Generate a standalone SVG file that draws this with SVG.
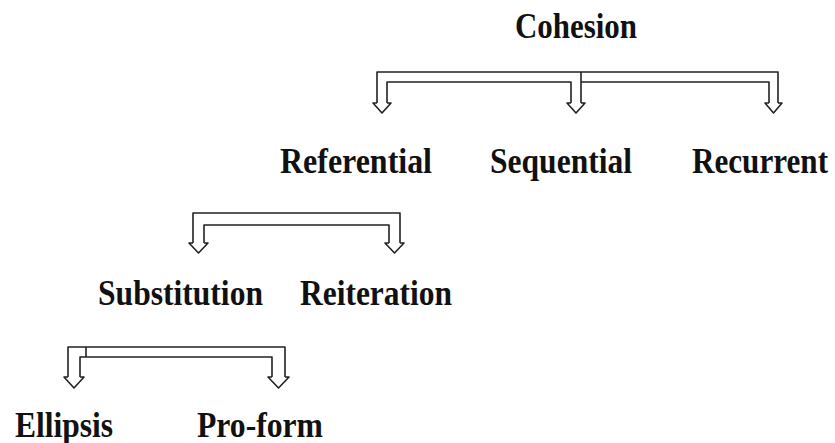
<svg xmlns="http://www.w3.org/2000/svg" width="835" height="443" viewBox="0 0 835 443">
<style>
.t{font-family:"Liberation Serif","Times New Roman",serif;font-weight:bold;font-size:36px;fill:#111}
.c{fill:none;stroke:#222;stroke-width:1.6;stroke-linejoin:round}
</style>
<rect width="835" height="443" fill="#fff"/>
<g id="connectors">
<path class="c" d="M377,103 V72 H778 V103 M387,103 V82 H571 V103 M581,72 V103 M581,82 H769 V103 M377,103 H373 L382,113 L391,103 H387 M571,103 H567 L576,113 L585,103 H581 M769,103 H765 L773.5,113 L782,103 H778"/>
<path class="c" d="M193,243 V213 H400 V243 M204,243 V225 H389 V243 M193,243 H189 L198.5,253 L208,243 H204 M389,243 H385 L394.5,253 L404,243 H400"/>
<path class="c" d="M68,377 V347 H285 V377 M80,377 V357 H272 V377 M86,347 V357 M68,377 H64 L74,388 L84,377 H80 M272,377 H268 L278.5,388 L289,377 H285"/>
</g>
<g id="cohesion"><text class="t" x="515" y="38" textLength="122" lengthAdjust="spacingAndGlyphs">Cohesion</text></g>
<g id="referential"><text class="t" x="280" y="173" textLength="152" lengthAdjust="spacingAndGlyphs">Referential</text></g>
<g id="sequential"><text class="t" x="490" y="173" textLength="142" lengthAdjust="spacingAndGlyphs">Sequential</text></g>
<g id="recurrent"><text class="t" x="692" y="173" textLength="136" lengthAdjust="spacingAndGlyphs">Recurrent</text></g>
<g id="substitution"><text class="t" x="98" y="305" textLength="165" lengthAdjust="spacingAndGlyphs">Substitution</text></g>
<g id="reiteration"><text class="t" x="300" y="305" textLength="152" lengthAdjust="spacingAndGlyphs">Reiteration</text></g>
<g id="ellipsis"><text class="t" x="15" y="437" textLength="98" lengthAdjust="spacingAndGlyphs">Ellipsis</text></g>
<g id="proform"><text class="t" x="197" y="437" textLength="126" lengthAdjust="spacingAndGlyphs">Pro-form</text></g>
</svg>
